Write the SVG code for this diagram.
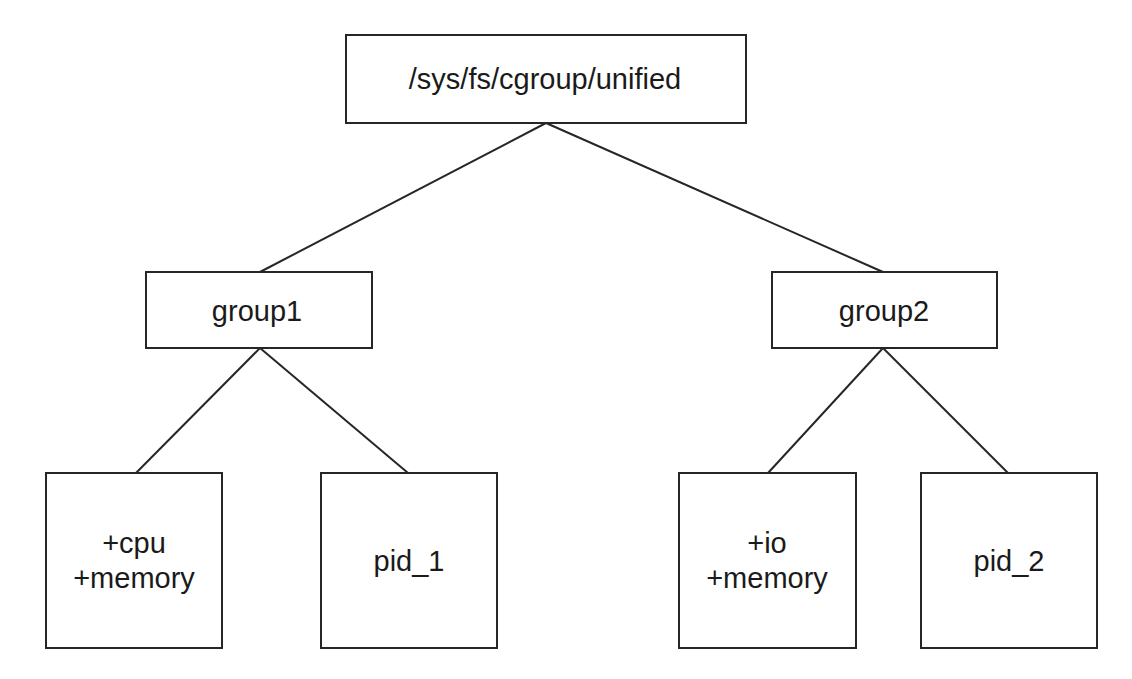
<svg xmlns="http://www.w3.org/2000/svg" width="1132" height="679" viewBox="0 0 1132 679">
<style>
.box{fill:#fff;stroke:#262626;stroke-width:2}
.ln{fill:none;stroke:#262626;stroke-width:2}
text{font-family:"Liberation Sans",Arial,sans-serif;font-size:29px;fill:#1a1a1a;text-anchor:middle}
</style>
<rect width="1132" height="679" fill="#fff"/>
<g id="connectors">
<line class="ln" x1="546" y1="123" x2="260" y2="272"/>
<line class="ln" x1="546" y1="123" x2="883" y2="272"/>
<line class="ln" x1="260" y1="348" x2="136" y2="473"/>
<line class="ln" x1="260" y1="348" x2="408" y2="473"/>
<line class="ln" x1="883" y1="348" x2="768" y2="473"/>
<line class="ln" x1="883" y1="348" x2="1008" y2="473"/>
</g>
<g id="root"><rect class="box" x="346" y="35" width="400" height="88"/><text x="545" y="89">/sys/fs/cgroup/unified</text></g>
<g id="group1"><rect class="box" x="146" y="272" width="226" height="76"/><text x="257" y="321">group1</text></g>
<g id="group2"><rect class="box" x="772" y="272" width="225" height="76"/><text x="884" y="321">group2</text></g>
<g id="g1res"><rect class="box" x="46" y="473" width="176" height="175"/><text x="134" y="553">+cpu</text><text x="134" y="588">+memory</text></g>
<g id="pid1"><rect class="box" x="321" y="473" width="176" height="175"/><text x="409" y="571">pid_1</text></g>
<g id="g2res"><rect class="box" x="679" y="473" width="177" height="175"/><text x="767" y="553">+io</text><text x="767" y="588">+memory</text></g>
<g id="pid2"><rect class="box" x="921" y="473" width="176" height="175"/><text x="1009" y="571">pid_2</text></g>
</svg>
